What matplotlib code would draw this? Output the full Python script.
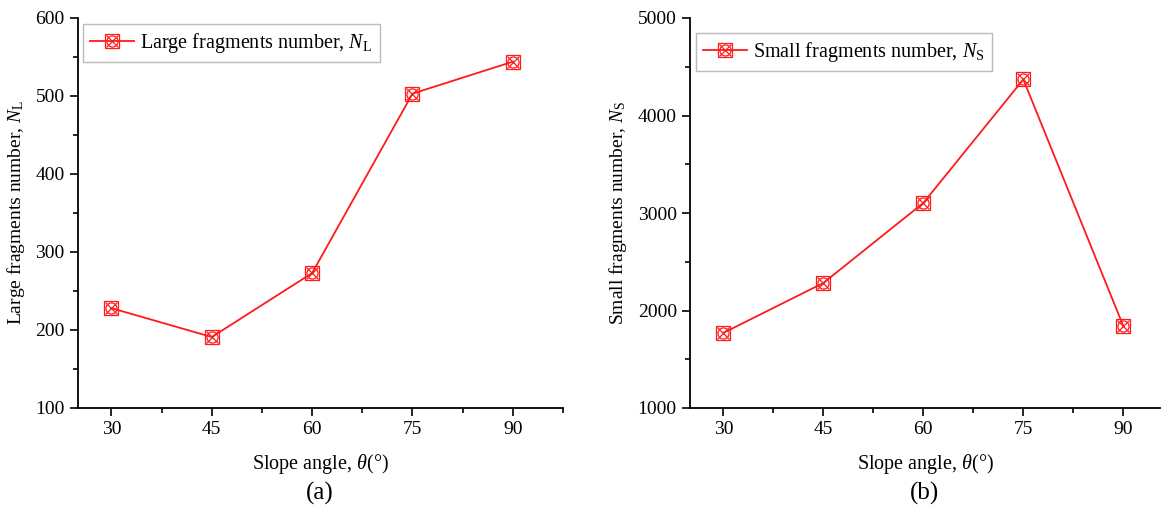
import matplotlib
matplotlib.use("Agg")
import matplotlib.pyplot as plt
from matplotlib.ticker import MultipleLocator, AutoMinorLocator
from matplotlib.legend_handler import HandlerTuple

# data
angles = [30, 45, 60, 75, 90]
large_number = [228, 191, 273, 503, 544]
small_number = [1770, 2282, 3103, 4370, 1840]

plt.rcParams['font.family'] = ['Liberation Serif', 'DejaVu Serif']
plt.rcParams['mathtext.fontset'] = 'custom'
plt.rcParams['mathtext.rm'] = 'Liberation Serif'
plt.rcParams['mathtext.it'] = 'Liberation Serif:italic'
plt.rcParams['mathtext.default'] = 'regular'

red = '#ff1a1a'

fig = plt.figure(figsize=(11.65, 5.14), dpi=100)
ax_a = fig.add_axes([78/1165, 1 - 408/514, (563-78)/1165, (408-18)/514])
ax_b = fig.add_axes([690/1165, 1 - 408/514, (1160-690)/1165, (408-18)/514])


def draw(ax, y, label, ylim, ystep, xlim, leg_anchor):
    ln, = ax.plot(angles, y, color=red, lw=1.3, marker='s', ms=10,
                  mfc='none', mec=red, mew=0.9)
    xm, = ax.plot(angles, y, ls='none', marker='x', ms=9, mec=red, mew=0.9)
    om, = ax.plot(angles, y, ls='none', marker='o', ms=8, mfc='none',
                  mec=red, mew=0.9)
    ax.set_xlim(*xlim)
    ax.set_ylim(*ylim)
    ax.xaxis.set_major_locator(MultipleLocator(15))
    ax.xaxis.set_minor_locator(AutoMinorLocator(2))
    ax.yaxis.set_major_locator(MultipleLocator(ystep))
    ax.yaxis.set_minor_locator(AutoMinorLocator(2))
    for s in ('top', 'right'):
        ax.spines[s].set_visible(False)
    for s in ('left', 'bottom'):
        ax.spines[s].set_linewidth(1.3)
    ax.tick_params(which='major', direction='out', length=6, width=1.2,
                   labelsize=14)
    ax.tick_params(which='minor', direction='out', length=3.5, width=1.2)
    ax.set_xlabel(r'Slope angle, $\mathit{\theta}$(°)', fontsize=14.5, labelpad=10)
    ax.set_ylabel(label, fontsize=14, labelpad=6)
    leg = ax.legend([(ln, xm, om)], [label], loc='upper left',
                    handler_map={tuple: HandlerTuple(ndivide=1)},
                    fontsize=14.5, frameon=True, fancybox=False,
                    handlelength=2.2, handletextpad=0.3, borderpad=0.35,
                    borderaxespad=0, bbox_to_anchor=leg_anchor)
    leg.get_frame().set_edgecolor('#aaaaaa')
    leg.get_frame().set_linewidth(1.0)


draw(ax_a, large_number, r'Large fragments number, $\mathit{N}_\mathrm{L}$',
     (100, 600), 100, (25, 97.5), (5/485, 1 - 6/390))
draw(ax_b, small_number, r'Small fragments number, $\mathit{N}_\mathrm{S}$',
     (1000, 5000), 1000, (25, 95.5), (6/470, 1 - 15/390))

fig.text(320/1165, 1 - 493/514, '(a)', fontsize=18, ha='center', va='center')
fig.text(925/1165, 1 - 493/514, '(b)', fontsize=18, ha='center', va='center')

fig.savefig('out.png', dpi=100)
